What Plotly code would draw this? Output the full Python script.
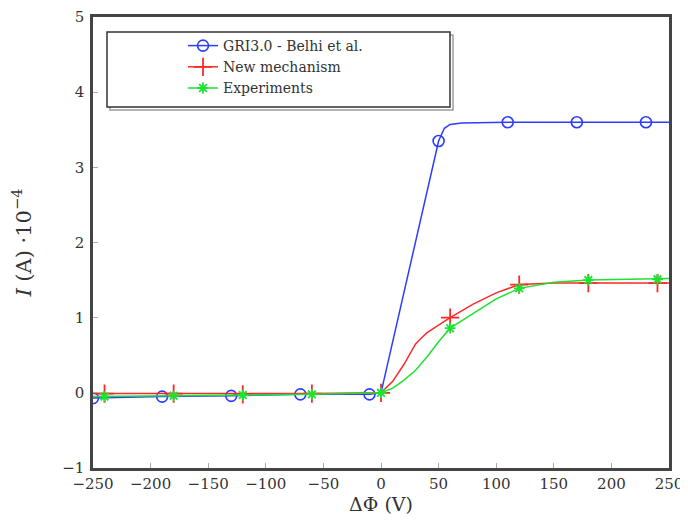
import plotly.graph_objects as go

# ---- data ----
gri_x = [-250, -190, -130, -70, -10, 0, 50, 55, 60, 70, 110, 170, 230, 250]
gri_y = [-0.07, -0.05, -0.04, -0.02, -0.02, 0.0, 3.35, 3.52, 3.57, 3.59, 3.6, 3.6, 3.6, 3.6]
gri_marked = [-250, -190, -130, -70, -10, 50, 110, 170, 230]

new_x = [-250, -240, -180, -120, -60, 0, 10, 20, 30, 35, 40, 50, 60, 80, 100, 120, 150, 180, 240, 250]
new_y = [-0.01, -0.01, -0.01, -0.02, -0.01, 0.0, 0.15, 0.38, 0.65, 0.73, 0.8, 0.9, 1.0, 1.18, 1.33, 1.44, 1.46, 1.46, 1.46, 1.46]
new_marked = [-240, -180, -120, -60, 0, 60, 120, 180, 240]

exp_x = [-250, -240, -180, -120, -60, 0, 10, 20, 30, 40, 50, 60, 80, 100, 120, 150, 180, 240, 250]
exp_y = [-0.05, -0.05, -0.04, -0.03, -0.02, 0.0, 0.06, 0.17, 0.3, 0.48, 0.68, 0.86, 1.06, 1.25, 1.39, 1.47, 1.5, 1.51, 1.52]
exp_marked = [-240, -180, -120, -60, 0, 60, 120, 180, 240]

series_names = ["GRI3.0 - Belhi et al.", "New mechanism", "Experiments"]
x_ticks = [-250, -200, -150, -100, -50, 0, 50, 100, 150, 200, 250]
y_ticks = [-1, 0, 1, 2, 3, 4, 5]

BLUE = "rgb(45,60,255)"
RED = "rgb(255,40,40)"
GREEN = "rgb(30,225,50)"
SERIF = "DejaVu Serif, Liberation Serif, serif"

styles = [
    (gri_x, gri_y, gri_marked, BLUE, dict(symbol="circle-open", size=11, color=BLUE, line=dict(width=1.6, color=BLUE))),
    (new_x, new_y, new_marked, RED, dict(symbol="cross-thin-open", size=13, color=RED, line=dict(width=1.8, color=RED))),
    (exp_x, exp_y, exp_marked, GREEN, dict(symbol="asterisk-open", size=9, color=GREEN, line=dict(width=1.8, color=GREEN))),
]

fig = go.Figure()
for name, (xs, ys, marks, color, mk) in zip(series_names, styles):
    fig.add_trace(go.Scatter(x=xs, y=ys, mode="lines", line=dict(color=color, width=1.5),
                             showlegend=False, hoverinfo="skip"))
    lookup = dict(zip(xs, ys))
    my = [lookup[v] for v in marks]
    fig.add_trace(go.Scatter(x=marks, y=my, mode="markers", marker=mk, showlegend=False))
    fig.add_trace(go.Scatter(x=[None], y=[None], mode="lines+markers", name=name,
                             line=dict(color=color, width=1.5), marker=mk))

# page body has an 8px margin; target plot area on screen: x 93..669, y 17..468
OFF = 8
W, H = 688 - OFF, 520 - OFF
L, T = 93 - OFF, 17 - OFF
R = W - (669 - OFF)
B = H - (468 - OFF)
pw, ph = W - L - R, H - T - B

def px_x(p):
    return (p - OFF - L) / pw

def px_y(p):
    return 1 - (p - OFF - T) / ph

# legend box with shadow
fig.add_shape(type="rect", xref="paper", yref="paper",
              x0=px_x(110), x1=px_x(453), y0=px_y(35), y1=px_y(110),
              line=dict(color="rgba(90,90,90,0.6)", width=1.5), fillcolor="rgba(0,0,0,0)", layer="above")
fig.add_shape(type="rect", xref="paper", yref="paper",
              x0=px_x(107), x1=px_x(450), y0=px_y(32), y1=px_y(107),
              line=dict(color="#333", width=1.5), fillcolor="white", layer="above")

fig.update_layout(
    width=W, height=H,
    margin=dict(l=L, r=R, t=T, b=B, autoexpand=False),
    plot_bgcolor="white", paper_bgcolor="white",
    font=dict(family=SERIF, size=15, color="#333"),
    legend=dict(x=px_x(183), y=px_y(30), xanchor="left", yanchor="top",
                bgcolor="rgba(0,0,0,0)", borderwidth=0,
                font=dict(family=SERIF, size=14, color="#333"),
                tracegroupgap=0),
    xaxis=dict(range=[-250, 250], tickvals=x_ticks, ticks="inside", ticklen=5,
               tickcolor="#aaa", showgrid=False, zeroline=False, automargin=False,
               showline=True, mirror=True, linecolor="#444", linewidth=2.5,
               ticklabeloverflow="allow",
               title=dict(text="ΔΦ (V)", font=dict(size=19), standoff=6),
               tickfont=dict(size=15)),
    yaxis=dict(range=[-1, 5], tickvals=y_ticks, ticks="inside", ticklen=5,
               tickcolor="#aaa", showgrid=False, zeroline=False, automargin=False,
               showline=True, mirror=True, linecolor="#444", linewidth=2.5,
               ticklabelstandoff=3, ticklabeloverflow="allow",
               title=dict(text="<i>I</i> (A) ·10<sup>−4</sup>", font=dict(size=21), standoff=25),
               tickfont=dict(size=15)),
)

fig.write_html("out.html")
